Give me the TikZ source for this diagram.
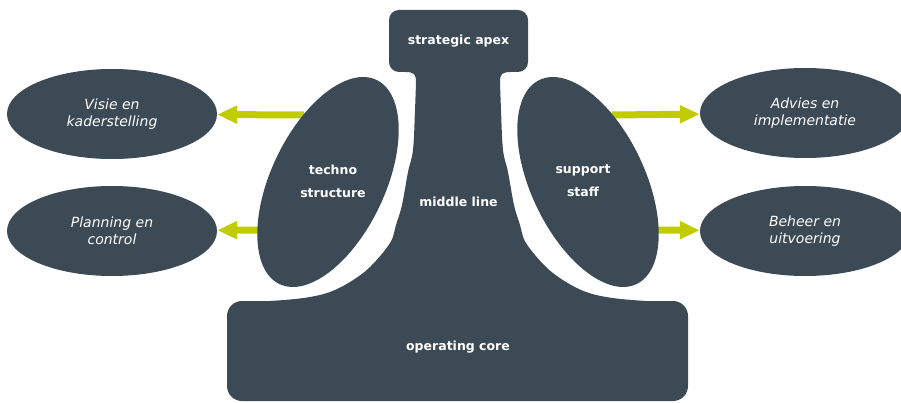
\documentclass[tikz,border=0pt]{standalone}
\usepackage{fontspec}
\setmainfont{DejaVu Sans}
\usetikzlibrary{shapes.geometric,arrows.meta}
\definecolor{dark}{HTML}{3B4A55}
\definecolor{lime}{HTML}{C1CC00}
\begin{document}
\begin{tikzpicture}[x=1pt,y=-1pt,
  blob/.style={fill=dark,draw=none},
  box/.style={fill=dark,draw=none,inner sep=0pt},
  tilted/.style={ellipse,fill=dark,draw=none,inner sep=0pt,minimum width=226pt,minimum height=114pt},
  outer/.style={ellipse,fill=dark,draw=none,inner sep=0pt,minimum width=210pt,minimum height=90pt,
    text=white,font=\itshape\fontsize{14}{17}\selectfont,align=center},
  lbl/.style={text=white,font=\bfseries\fontsize{12.5}{14}\selectfont,align=center,inner sep=0pt},
  pair/.style={text=white,font=\bfseries\fontsize{12.5}{23}\selectfont,align=center,inner sep=0pt},
  arr/.style={draw=lime,line width=7pt,-{Triangle[length=20pt,width=17pt]}}]
\useasboundingbox (0,0) rectangle (901,403);
\clip (0,0) rectangle (901,403);

% operating core box
\node[box,rounded corners=15pt,minimum width=461pt,minimum height=100pt] (corebox) at (457.5,351) {};

% middle line
\fill[blob] (405,72) .. controls (414,72) and (416,74) .. (416,82)
  -- plot[smooth,tension=0.6] coordinates {(416,82) (415,110) (413,150) (408,172) (402,205) (396,225) (390,243) (370,267) (350,282) (330,292) (310,297) (290,299.5) (270,301)}
  -- (270,320) -- (646,320) -- (646,301)
  -- plot[smooth,tension=0.6] coordinates {(646,301) (626,299.5) (606,297) (586,292) (566,282) (546,267) (526,243) (520,225) (514,205) (508,172) (503,150) (501,110) (500,82)}
  .. controls (500,74) and (502,72) .. (511,72) -- cycle;

% strategic apex box
\node[box,rounded corners=10pt,minimum width=139pt,minimum height=62pt] (apex) at (458.5,41) {};
\node[lbl] (apextext) at (458.5,41) {strategic apex};
\node[lbl] (middle) at (458.5,202) {middle line};
\node[lbl] (core) at (458,347) {operating core};

% arrow start points
\coordinate (tl) at (304,115);
\coordinate (bl) at (262,230);
\coordinate (tr) at (612,115);
\coordinate (br) at (654,230);

% outer ellipses
\node[outer] (visie) at (112,114) {Visie en\\kaderstelling};
\node[outer] (planning) at (112,231) {Planning en\\control};
\node[outer] (advies) at (805,113) {Advies en\\implementatie};
\node[outer] (beheer) at (805,231) {Beheer en\\uitvoering};

% arrows
\draw[arr] (tl) -- (visie);
\draw[arr] (bl) -- (planning);
\draw[arr] (tr) -- (advies);
\draw[arr] (br) -- (beheer);

% tilted ellipses
\node[tilted,rotate=64.6] (techno) at (328,182) {};
\node[tilted,rotate=-64.6] (support) at (588,182) {};
\node[pair] (technotext) at (333,181) {techno\\structure};
\node[pair] (supporttext) at (583,181) {support\\staff};
\end{tikzpicture}
\end{document}
